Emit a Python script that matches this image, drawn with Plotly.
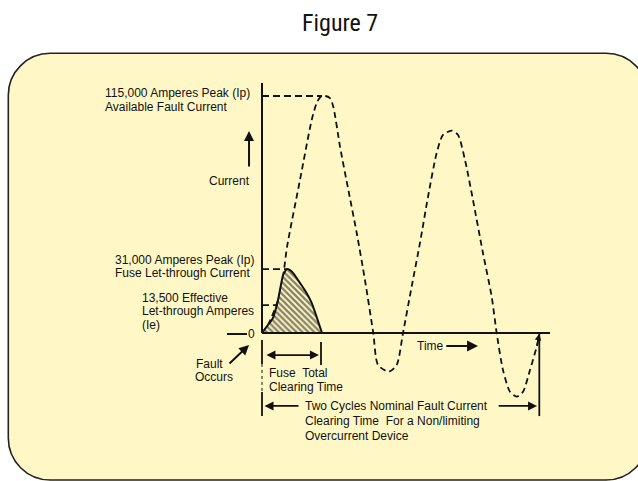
import plotly.graph_objects as go

# ---------------- data (time in ms, current in kA) ----------------
wave_t = [0, 0.72, 1.93, 2.53, 3.01, 4.57, 5.98, 6.58, 6.98, 7.58, 8.18, 8.58, 9.39,
          10.39, 11.40, 12.39, 13.39, 13.96, 15.28, 16.21, 16.97, 18.01, 19.01, 19.98,
          21.02, 21.78, 22.83, 23.59, 24.43, 25.39, 26.59, 27.64, 28.24, 29.00, 29.84,
          30.65, 31.41, 32.25, 33.06, 33.37]
wave_i = [0, 3.9, 16.0, 27.2, 41.7, 74.2, 103.3, 111.6, 114.3, 115.0, 114.0, 109.8, 90.4,
          69.4, 48.5, 25.7, 0, -15.5, -18.8, -15.5, 0, 22.5, 43.7, 66.1,
          87.3, 96.1, 98.2, 96.1, 83.9, 64.5, 38.8, 17.6, 0, -18.0, -28.5,
          -30.9, -28.5, -18.0, -6.6, -1.8]

fuse_t = [0, 0.72, 1.32, 1.93, 2.53, 2.97, 3.37, 3.85, 4.57, 5.29, 5.98, 6.50, 7.22]
fuse_i = [0, 3.9, 7.3, 16.0, 28.1, 31.0, 30.5, 28.6, 24.3, 19.9, 14.6, 8.7, 0]

peak_available = 115.0
peak_letthrough = 31.0
effective_letthrough = 13.5
fuse_clear_t = 7.22
two_cycles_t = 33.37

FONT = "Liberation Sans, Arial, sans-serif"
FS = 12.0
INK = "#111111"
BOXFILL = "#FFF8C6"

fig = go.Figure()

# available fault current (dashed)
fig.add_trace(go.Scatter(x=wave_t, y=wave_i, mode="lines",
                         line=dict(color=INK, width=1.8, dash="6px,4px", shape="spline", smoothing=0.7),
                         hoverinfo="skip", showlegend=False))

# fuse let-through (hatched)
fig.add_trace(go.Scatter(x=fuse_t, y=fuse_i, mode="lines", fill="toself",
                         fillcolor=BOXFILL,
                         fillpattern=dict(shape="\\", fgcolor=INK, bgcolor=BOXFILL, size=4.2, solidity=0.55),
                         line=dict(color=INK, width=2.0, shape="spline", smoothing=0.4),
                         hoverinfo="skip", showlegend=False))

# reference level dashed lines
for lvl, tend in [(peak_available, fuse_clear_t), (peak_letthrough, fuse_t[5]), (effective_letthrough, fuse_t[3])]:
    fig.add_trace(go.Scatter(x=[0, tend], y=[lvl, lvl], mode="lines",
                             line=dict(color=INK, width=1.8, dash="7px,4px"),
                             hoverinfo="skip", showlegend=False))

# ---------------- rounded box (paper coords) ----------------
W, H = 638, 481
def px(x): return x / W
def py(y): return 1 - y / H
L, R, T, B, r = 8.3, 648, 53.3, 480, 42
k = 0.5523
rx, ry = r / W, r / H
Lp, Rp, Tp, Bp = px(L), px(R), py(T), py(B)
path = (f"M {Lp},{Bp+ry} L {Lp},{Tp-ry} "
        f"C {Lp},{Tp-ry+k*ry} {Lp+rx-k*rx},{Tp} {Lp+rx},{Tp} "
        f"L {Rp-rx},{Tp} C {Rp-rx+k*rx},{Tp} {Rp},{Tp-ry+k*ry} {Rp},{Tp-ry} "
        f"L {Rp},{Bp+ry} C {Rp},{Bp+ry-k*ry} {Rp-rx+k*rx},{Bp} {Rp-rx},{Bp} "
        f"L {Lp+rx},{Bp} C {Lp+rx-k*rx},{Bp} {Lp},{Bp+ry-k*ry} {Lp},{Bp+ry} Z")

shapes = [dict(type="path", path=path, xref="paper", yref="paper",
               fillcolor=BOXFILL, line=dict(color="#222222", width=1.6), layer="below")]

def seg(x0, y0, x1, y1, w=2.0, dash=None):
    d = dict(type="line", xref="x", yref="y", x0=x0, y0=y0, x1=x1, y1=y1,
             line=dict(color=INK, width=w))
    if dash:
        d["line"]["dash"] = dash
    return d

shapes += [
    seg(0, 0, 0, 121.3, 2.0),            # y axis
    seg(0, 0, 34.66, 0, 2.0),            # x axis
    seg(-4.21, -0.5, -1.81, -0.5, 2.0),  # "—" before 0
    seg(0, -3.4, 0, -15.0, 1.8),         # fuse bracket left
    seg(7.10, -4.4, 7.10, -15.5, 1.8),   # fuse bracket right
    seg(0, -15.0, 0, -28.6, 1.0, "dot"),
    seg(0, -28.6, 0, -40.3, 1.8),        # two-cycle bracket left
    seg(two_cycles_t, 0, two_cycles_t, -40.3, 1.8),  # two-cycle bracket right
]

def arrow(xh, yh, xt, yt, side="end", w=1.8, size=1.0):
    return dict(x=xh, y=yh, ax=xt, ay=yt, xref="x", yref="y", axref="x", ayref="y",
                text="", showarrow=True, arrowhead=2, arrowside=side, arrowsize=size,
                arrowwidth=w, arrowcolor=INK, standoff=0, startstandoff=0)

ann = [
    arrow(-1.56, 98.0, -1.56, 80.1, w=2.0),          # current arrow up
    arrow(-1.56, -5.8, -4.09, -15.5, w=2.0),         # fault occurs arrow
    arrow(6.85, -10.7, 0.35, -10.7, side="end+start", w=1.8),  # fuse clearing
    arrow(26.0, -6.3, 22.0, -6.3, w=2.2),            # time arrow
    arrow(0.3, -35.4, 4.57, -35.4, w=1.8),           # two cycles left
    arrow(33.1, -35.4, 28.3, -35.4, w=1.8),          # two cycles right
    arrow(33.37, -0.4, 33.06, -6.6, w=1.6, size=0.8),  # wave end arrowhead
]

def txt(x, y, s, anchor="left", size=FS):
    return dict(x=x, y=y, xref="x", yref="y", text=s, showarrow=False,
                xanchor=anchor, yanchor="middle",
                font=dict(family=FONT, size=size, color=INK))

ann += [
    txt(-19.13, 116.3, "115,000 Amperes Peak (Ip)"),
    txt(-19.13, 109.8, "Available Fault Current"),
    txt(-6.62, 73.7, "Current"),
    txt(-17.93, 35.4, "31,000 Amperes Peak (Ip)"),
    txt(-17.93, 28.9, "Fuse Let-through Current"),
    txt(-14.68, 17.0, "13,500 Effective"),
    txt(-14.68, 10.6, "Let-through Amperes"),
    txt(-14.68, 4.0, "(Ie)"),
    txt(-0.55, -0.5, "0", anchor="right"),
    txt(-8.18, -15.0, "Fault"),
    txt(-8.30, -21.4, "Occurs"),
    txt(0.60, -19.4, "Fuse  Total"),
    txt(0.60, -26.0, "Clearing Time"),
    txt(18.41, -6.3, "Time"),
    txt(4.93, -35.4, "Two Cycles Nominal Fault Current"),
    txt(4.93, -42.6, "Clearing Time  For a Non/limiting"),
    txt(4.93, -50.0, "Overcurrent Device"),
    dict(x=px(340), y=py(23), xref="paper", yref="paper", text="Figure 7", showarrow=False,
         xanchor="center", yanchor="middle",
         font=dict(family="Liberation Sans Narrow, Roboto Condensed, Arial Narrow, sans-serif",
                   size=24, color="#111111")),
]

fig.update_layout(
    width=W, height=H, autosize=False,
    margin=dict(l=0, r=0, t=0, b=0),
    paper_bgcolor="white", plot_bgcolor="rgba(0,0,0,0)",
    xaxis=dict(range=[-31.528, 45.247], visible=False, fixedrange=True),
    yaxis=dict(range=[-71.81, 161.57], visible=False, fixedrange=True),
    shapes=shapes, annotations=ann, showlegend=False,
)

fig.write_html("out.html", config={"displayModeBar": False},
               post_script="document.body.style.margin='0';document.body.style.overflow='hidden';")
